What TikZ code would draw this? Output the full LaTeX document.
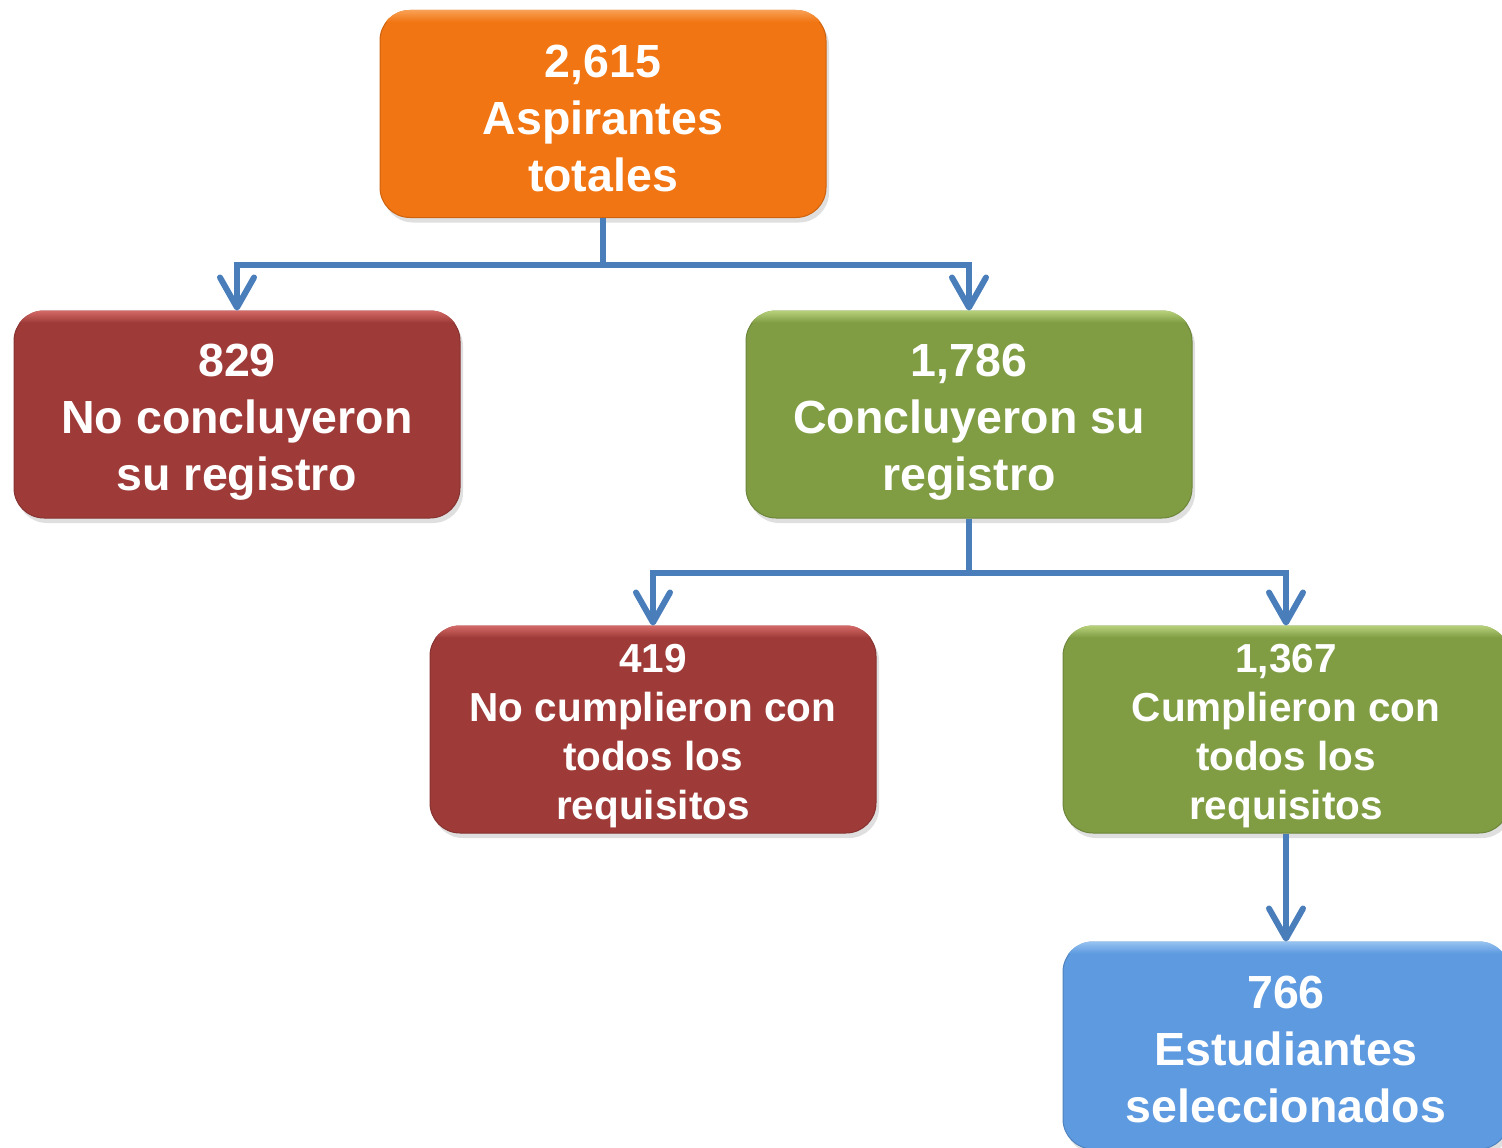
\documentclass[tikz,border=0pt]{standalone}
\usepackage{fontspec}
\setmainfont{Liberation Sans}
\usetikzlibrary{arrows.meta,shadows}
\definecolor{corange}{HTML}{F17512}
\definecolor{corangeL}{HTML}{F9A45A}
\definecolor{cred}{HTML}{9E3B38}
\definecolor{credL}{HTML}{D96E6B}
\definecolor{cgreen}{HTML}{809D44}
\definecolor{cgreenL}{HTML}{BCD67F}
\definecolor{cblue}{HTML}{5D9AE0}
\definecolor{cblueL}{HTML}{9CC6F2}
\definecolor{conn}{HTML}{4A7EBB}
\tikzset{
  box/.style={rounded corners=30pt, minimum width=446pt, minimum height=207pt,
    inner sep=0pt, line width=1pt,
    drop shadow={shadow xshift=3pt, shadow yshift=-5pt, opacity=0.25}},
  boxtext/.style={text=white, align=center, inner sep=0pt},
  bigtext/.style={boxtext, font=\fontsize{46.5}{57}\selectfont\bfseries, yshift=-4pt},
  bigtextlow/.style={bigtext, yshift=-4pt},
  smalltext/.style={boxtext, font=\fontsize{40.5}{49}\selectfont\bfseries, yshift=-7pt},
  connector/.style={draw=conn, line width=6pt},
  arr/.style={connector, -{Straight Barb[length=30pt,width=34pt,line cap=round,line join=round]}}
}
\newcommand\flowbox[7]{%
  \node[box, fill=#4, draw=#4!85!black] (#1) at (#2,#3) {};
  \begin{scope}
    \clip[rounded corners=30pt] (#1.north west) rectangle (#1.south east);
    \shade[top color=#5, bottom color=#4] ([yshift=1pt]#1.north west) rectangle ([yshift=-12pt]#1.north east);
  \end{scope}
  \node[#7] (#1-t) at (#1.center) {#6};
}
\begin{document}
\begin{tikzpicture}[x=1pt,y=-1pt]
\useasboundingbox (0,0) rectangle (1502,1148);
\clip (0,0) rectangle (1502,1148);
\flowbox{top}{603}{114}{corange}{corangeL}{2,615\\Aspirantes\\totales}{bigtext}
\flowbox{r1}{237}{414.5}{cred}{credL}{829\\No concluyeron\\su registro}{bigtextlow}
\flowbox{g1}{969}{414.5}{cgreen}{cgreenL}{1,786\\Concluyeron su\\registro}{bigtextlow}
\flowbox{r2}{653}{729.5}{cred}{credL}{419\\No cumplieron con\\todos los\\requisitos}{smalltext}
\flowbox{g2}{1286}{729.5}{cgreen}{cgreenL}{1,367\\Cumplieron con\\todos los\\requisitos}{smalltext}
\flowbox{b1}{1286}{1045.5}{cblue}{cblueL}{766\\Estudiantes\\seleccionados}{bigtext}
\coordinate (j1) at (603,265);
\coordinate (j2) at (969,573);
\draw[connector] (top.south) -- (j1);
\draw[arr] (j1) -| (r1.north);
\draw[arr] (j1) -| (g1.north);
\draw[connector] (g1.south) -- (j2);
\draw[arr] (j2) -| (r2.north);
\draw[arr] (j2) -| (g2.north);
\draw[arr] (g2.south) -- (b1.north);
\end{tikzpicture}
\end{document}
